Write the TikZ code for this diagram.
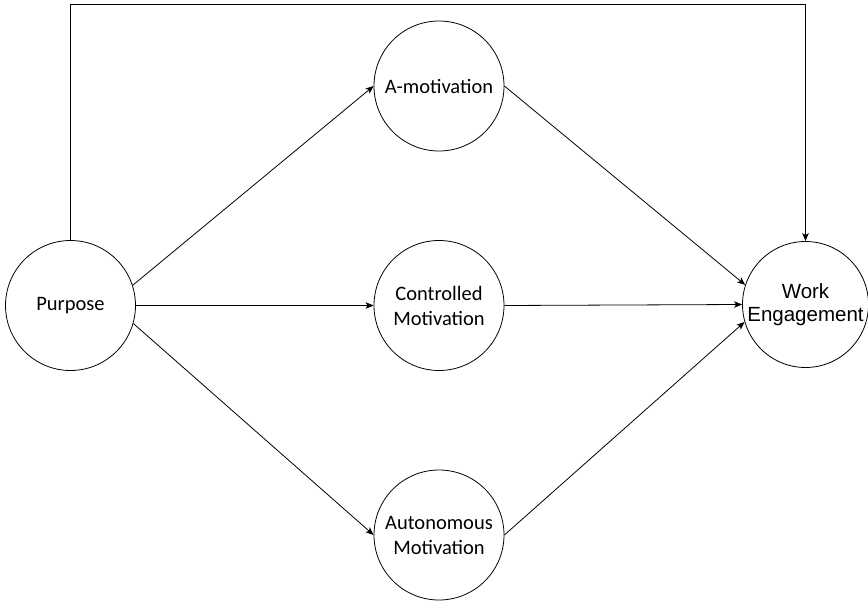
\documentclass[tikz,border=0pt]{standalone}
\usepackage{fontspec}
\setmainfont{Carlito}
\newfontfamily\helv{Liberation Sans}
\usetikzlibrary{arrows.meta}
\begin{document}
\begin{tikzpicture}[x=1pt,y=-1pt,
  var/.style={draw, line width=0.8pt, circle, minimum size=130pt, inner sep=0pt,
    align=center, font=\fontsize{20.5}{25}\selectfont},
  arr/.style={line width=0.8pt, -{Stealth[length=8pt,width=6.5pt,inset=2pt]}}]
\useasboundingbox (0,0) rectangle (868,602);
\node[var] (P) at (70.5,305.5) {Purpose};
\node[var] (A) at (439,86) {A-motivation};
\node[var] (C) at (439,305.5) {Controlled\\Motivation};
\node[var] (U) at (439,535) {Autonomous\\Motivation};
\node[var, minimum size=126pt, font=\helv\fontsize{20.5}{23}\selectfont] (W) at (805.5,304.5) {Work\\Engagement};
\coordinate (top) at (0,4.5);
% mediated paths
\draw[arr] (P.18) -- (A.west);
\draw[arr] (P.east) -- (C.west);
\draw[arr] (P.-16) -- (U.west);
\draw[arr] (A.east) -- (W.162);
\draw[arr] (C.east) -- (W.west);
\draw[arr] (U.east) -- (W.196);
% direct path over the top
\draw[arr] (P.north) -- (P.north |- top) -- (W.north |- top) -- (W.north);
\end{tikzpicture}
\end{document}
